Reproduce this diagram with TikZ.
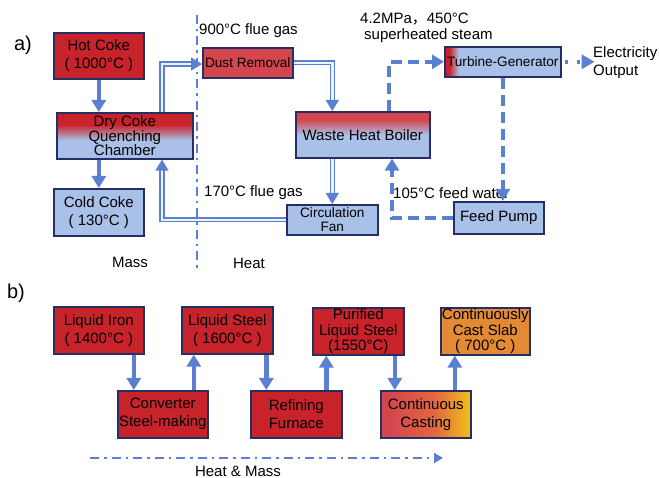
\documentclass[tikz,border=0pt]{standalone}
\usepackage{fontspec}
\setmainfont{Liberation Sans}
\newfontfamily\cjk{Noto Sans CJK SC}
\usetikzlibrary{arrows.meta,calc,shadings}
\definecolor{cred}{HTML}{C8232B}
\definecolor{cred2}{HTML}{D4464D}
\definecolor{cblue}{HTML}{A9C1E8}
\definecolor{cnavy}{HTML}{262E66}
\definecolor{carrow}{HTML}{5B80D2}
\definecolor{corange}{HTML}{E38A34}
\definecolor{cmidor}{HTML}{E2683E}
\definecolor{cyellow}{HTML}{F2C21A}
\definecolor{cinner}{HTML}{EEF2FB}
\pgfdeclareverticalshading{dcqcshade}{100bp}{color(0bp)=(cblue); color(45bp)=(cblue); color(62bp)=(cred); color(100bp)=(cred)}
\pgfdeclareverticalshading{whbshade}{100bp}{color(0bp)=(cblue); color(50bp)=(cblue); color(66bp)=(cred2); color(100bp)=(cred2)}
\pgfdeclarehorizontalshading{tgshade}{100bp}{color(0bp)=(cred); color(27bp)=(cred); color(31bp)=(cblue); color(100bp)=(cblue)}
\pgfdeclarehorizontalshading{castshade}{100bp}{color(0bp)=(cred2); color(30bp)=(cred2); color(55bp)=(cmidor); color(75bp)=(cyellow); color(100bp)=(cyellow)}
\tikzset{
  box/.style={draw=cnavy, line width=1.6pt, inner sep=0pt, align=center, anchor=north west,
    font=\fontsize{15}{18}\selectfont},
  redbox/.style={box, fill=cred},
  bluebox/.style={box, fill=cblue},
  massarrow/.style={draw=carrow, line width=4.5pt, -{Triangle[length=12pt,width=14pt]}},
  gasarrow/.style={draw=carrow, double=cinner, line width=1.4pt, double distance=2.4pt, -{Triangle[length=11pt,width=13pt]}},
  steamarrow/.style={draw=carrow, line width=4pt, dash pattern=on 11pt off 6pt, -{Triangle[length=12pt,width=14pt]}},
  divider/.style={draw=carrow, line width=2.5pt, dash pattern=on 9pt off 5pt on 2.5pt off 5pt},
  lbl/.style={inner sep=0pt, font=\fontsize{15}{18}\selectfont},
}
\begin{document}
\begin{tikzpicture}[x=1pt,y=-1pt]
\useasboundingbox (0,0) rectangle (659,478);
% ---------- a) ----------
\node[lbl, font=\fontsize{20}{22}\selectfont] (la) at (23,45) {a)};
\node[redbox, minimum width=90pt, minimum height=46pt] (hc) at (53,32) {Hot Coke\\( 1000°C )};
\node[box, shading=dcqcshade, minimum width=136pt, minimum height=46pt,
  font=\fontsize{15}{14.5}\selectfont] (dcqc) at (56,112) {Dry Coke\\Quenching\\Chamber};
\node[bluebox, minimum width=90pt, minimum height=47pt] (cc) at (53,188) {Cold Coke\\( 130°C )};
\node[box, fill=cred2, minimum width=90pt, minimum height=30pt, font=\fontsize{13.6}{16}\selectfont] (dr) at (202,47) {Dust Removal};
\node[box, shading=whbshade, minimum width=134pt, minimum height=46pt] (whb) at (295,111) {Waste Heat Boiler};
\node[bluebox, minimum width=91pt, minimum height=30pt, font=\fontsize{13.6}{14}\selectfont] (fan) at (286,204) {Circulation\\Fan};
\node[box, shading=tgshade, minimum width=116pt, minimum height=30pt, font=\fontsize{13.6}{16}\selectfont] (tg) at (444,46) {Turbine-Generator};
\node[bluebox, minimum width=90pt, minimum height=32pt] (fp) at (453,201) {Feed Pump};

\coordinate (dv0) at (197,15);
\coordinate (dv1) at (197,268);
\draw[divider] (dv0) -- (dv1);

\node[lbl, anchor=west] (t900) at (199,31) {900°C flue gas};
\node[lbl, anchor=west] (t170) at (204,193) {170°C flue gas};
\node[lbl] (tmass) at (130,262) {Mass};
\node[lbl] (theat) at (249,263) {Heat};
\node[lbl, anchor=west] (tmpa) at (360,19) {4.2MPa{\cjk ，}450°C};
\node[lbl, anchor=west] (tsteam) at (364,36) {superheated steam};
\node[lbl, anchor=west] (t105) at (393,193) {105°C feed water};
\node[lbl, anchor=west, align=left] (telec) at (593,62.5) {Electricity\\Output};

% mass arrows
\draw[massarrow] (hc.south) -- (hc.south |- dcqc.north);
\draw[massarrow] (cc.north |- dcqc.south) -- (cc.north);
% gas loop
\coordinate (gx) at (162,0);
\coordinate (gy) at (0,64);
\draw[gasarrow] (dcqc.north -| gx) -- (gx |- gy) -- (gy -| dr.west);
\draw[gasarrow] (dr.east) -| (whb.north -| fan.north);
\draw[gasarrow] (whb.south -| fan.north) -- (fan.north);
\draw[gasarrow] (fan.west) -| (dcqc.south -| gx);
% steam loop
\coordinate (sx) at (389,0);
\draw[steamarrow] (whb.north -| sx) |- (tg.west);
\draw[steamarrow] (tg.south) -- (tg.south |- fp.north);
\coordinate (wx) at (392,0);
\draw[steamarrow] (fp.west) -| (whb.south -| wx);
\coordinate (e0) at ($(tg.east)+(3,0)$);
\coordinate (e1) at ($(tg.east)+(33,0)$);
\draw[draw=carrow, line width=4pt, dash pattern=on 3pt off 9pt, -{Triangle[length=13pt,width=14pt]}] (e0) -- (e1);

% ---------- b) ----------
\node[lbl, font=\fontsize{20}{22}\selectfont] (lb) at (16,293) {b)};
\node[redbox, minimum width=90pt, minimum height=47pt] (li) at (53,306) {Liquid Iron\\( 1400°C )};
\node[redbox, minimum width=91pt, minimum height=47pt] (ls) at (181,306) {Liquid Steel\\( 1600°C )};
\node[redbox, minimum width=91pt, minimum height=47pt, font=\fontsize{15}{15.3}\selectfont] (pls) at (312,307) {Purified\\Liquid Steel\\(1550°C)};
\node[box, fill=corange, minimum width=89pt, minimum height=47pt, font=\fontsize{15}{15.3}\selectfont] (css) at (440,307) {Continuously\\Cast Slab\\( 700°C )};
\node[redbox, minimum width=90pt, minimum height=47pt] (conv) at (117,390) {Converter\\Steel-making};
\node[redbox, minimum width=91pt, minimum height=47pt] (ref) at (250,390) {Refining\\Furnace};
\node[box, shading=castshade, minimum width=90pt, minimum height=47pt] (cast) at (380,390) {Continuous\\Casting};

\coordinate (a1) at ($(conv.north)+(-29,0)$);
\coordinate (a2) at ($(conv.north)+(31,0)$);
\coordinate (a3) at ($(ref.north)+(-30,0)$);
\coordinate (a4) at ($(ref.north)+(30,0)$);
\coordinate (a5) at ($(cast.north)+(-31,0)$);
\coordinate (a6) at ($(cast.north)+(29,0)$);
\draw[massarrow] (li.south -| a1) -- (a1);
\draw[massarrow] (a2) -- (a2 |- ls.south);
\draw[massarrow] (ls.south -| a3) -- (a3);
\draw[massarrow] (a4) -- (a4 |- pls.south);
\draw[massarrow] (pls.south -| a5) -- (a5);
\draw[massarrow] (a6) -- (a6 |- css.south);

\coordinate (hm0) at (90,458);
\coordinate (hm1) at (443,458);
\draw[divider, -{Triangle[length=9pt,width=10pt]}] (hm0) -- (hm1);
\node[lbl] (thm) at (238,471) {Heat \& Mass};
\end{tikzpicture}
\end{document}
